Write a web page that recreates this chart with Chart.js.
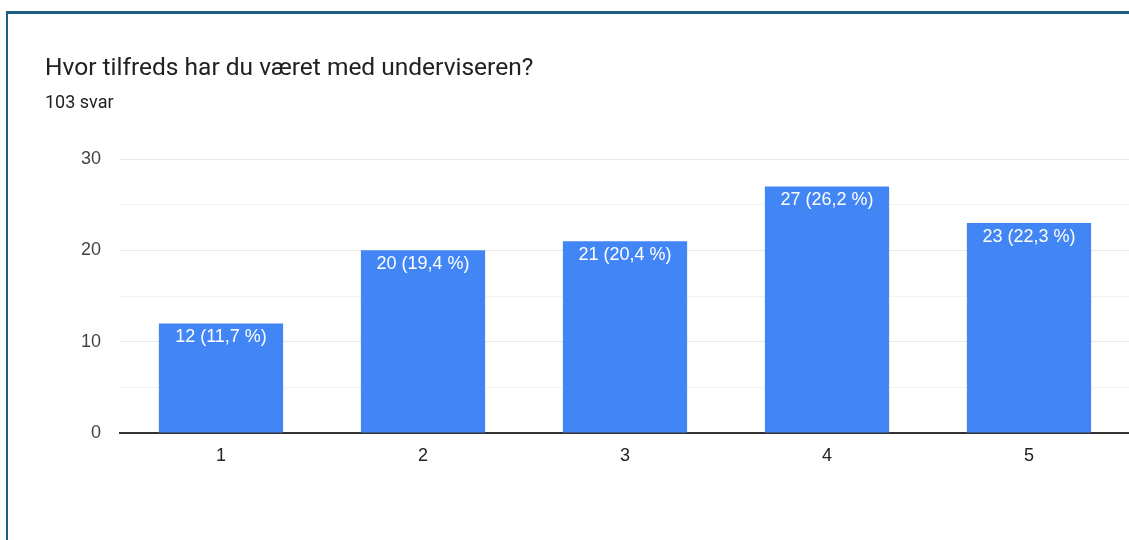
<!DOCTYPE html>
<html>
<head>
<meta charset="utf-8">
<script src="https://cdn.jsdelivr.net/npm/chart.js@4"></script>
<style>
    html, body { margin: 0; padding: 0; background: #fff; overflow: hidden; }
    #frame {
        position: absolute; left: 6px; top: 11px; width: 1200px; height: 600px;
        border-top: 3px solid #1f5d87; border-left: 2px solid #1f5d87;
    }
    #wrap { position: absolute; left: 0; top: 0; width: 1135px; height: 540px; }
</style>
</head>
<body>
<div id="frame"></div>
<div id="wrap"><canvas id="chart"></canvas></div>
<script>
// Survey answers, scale 1-5
const categories = ['1', '2', '3', '4', '5'];
const counts = [12, 20, 21, 27, 23];
const percents = ['11,7', '19,4', '20,4', '26,2', '22,3'];
const yTicks = [0, 10, 20, 30];

const barLabels = {
    id: 'barLabels',
    afterDatasetsDraw(chart) {
        const ctx = chart.ctx;
        const meta = chart.getDatasetMeta(0);
        ctx.save();
        ctx.font = '18px "Liberation Sans", Arial, sans-serif';
        ctx.fillStyle = '#ffffff';
        ctx.textAlign = 'center';
        ctx.textBaseline = 'middle';
        meta.data.forEach((bar, i) => {
            ctx.fillText(`${counts[i]} (${percents[i]} %)`, bar.x, bar.y + 14);
        });
        ctx.restore();
    }
};

new Chart(document.getElementById('chart'), {
    type: 'bar',
    data: {
        labels: categories,
        datasets: [{
            data: counts,
            backgroundColor: '#4285f4',
            barPercentage: 0.615,
            categoryPercentage: 1
        }]
    },
    options: {
        responsive: true,
        maintainAspectRatio: false,
        animation: false,
        layout: { padding: { left: 45, right: 5, top: 54, bottom: 0 } },
        plugins: {
            legend: { display: false },
            tooltip: { enabled: false },
            title: {
                display: true,
                align: 'start',
                text: 'Hvor tilfreds har du været med underviseren?',
                color: '#202124',
                font: { family: 'Roboto', size: 24.5, weight: 'normal' },
                padding: { top: 0, bottom: 9 }
            },
            subtitle: {
                display: true,
                align: 'start',
                text: '103 svar',
                color: '#202124',
                font: { family: 'Roboto', size: 18, weight: 'normal' },
                padding: { top: 0, bottom: 45 }
            }
        },
        scales: {
            x: {
                z: 1,
                grid: { display: false, drawTicks: false },
                border: { display: true, color: '#333333', width: 2 },
                ticks: {
                    color: '#222222',
                    padding: 12,
                    font: { family: '"Liberation Sans", Arial', size: 18 }
                },
                afterFit(scale) { scale.height = 107; }
            },
            y: {
                min: 0,
                max: 30,
                grid: {
                    drawTicks: false,
                    color: ctx => (ctx.tick && ctx.tick.value % 10 === 0) ? '#e8e8e8' : '#f3f3f3'
                },
                border: { display: false },
                ticks: {
                    stepSize: 5,
                    color: '#444444',
                    padding: 19,
                    font: { family: '"Liberation Sans", Arial', size: 18 },
                    callback: v => yTicks.includes(v) ? String(v) : ''
                },
                afterFit(scale) { scale.width = 75; }
            }
        }
    },
    plugins: [barLabels]
});
</script>
</body>
</html>
